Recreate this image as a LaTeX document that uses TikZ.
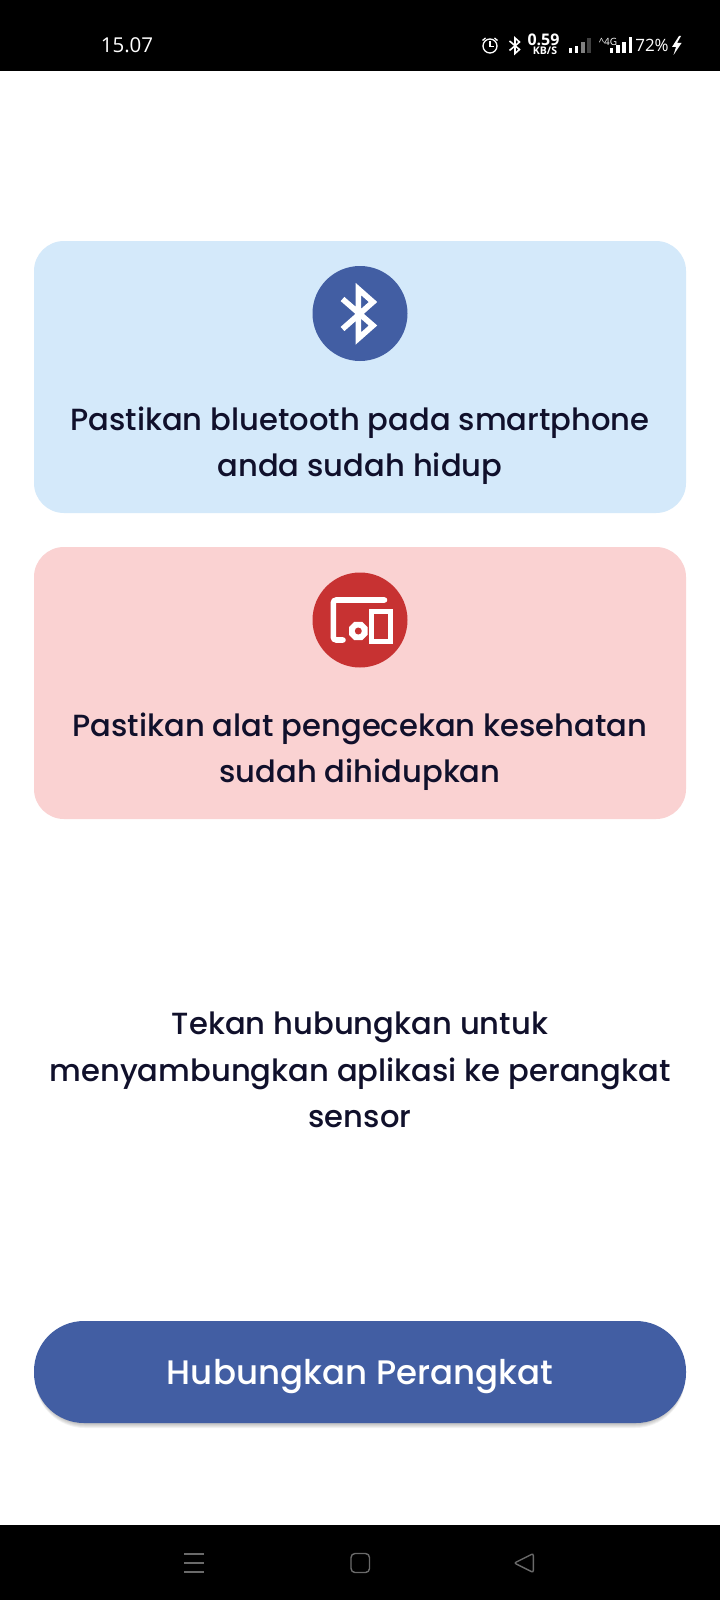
\documentclass[tikz,border=0pt]{standalone}
\usepackage{fontspec}
\usepackage{tikz}
\setmainfont{Poppins Medium}
\newfontfamily\statusfont{Open Sans}
\usetikzlibrary{arrows,shapes.geometric}
\definecolor{navyblue}{HTML}{425EA3}
\definecolor{bluebg}{HTML}{D4E9FA}
\definecolor{redbg}{HTML}{FAD2D2}
\definecolor{alertred}{HTML}{C73232}
\definecolor{inkdark}{HTML}{10102B}
\definecolor{navgrey}{HTML}{6A6A6A}

\begin{document}
\begin{tikzpicture}[x=1pt,y=-1pt,
  card node/.style={rectangle,rounded corners=30pt,minimum width=652pt,minimum height=272pt,inner sep=0pt},
  icon node/.style={circle,minimum size=95pt,inner sep=0pt},
  msg node/.style={align=center,text=inkdark,inner sep=0pt,font=\fontsize{30.6}{46.3}\selectfont},
  stat node/.style={text=white,inner sep=0pt,font=\statusfont\fontsize{17}{17}\selectfont},
  glyph/.style={draw=white,line width=5.6pt,line join=miter},
  nav/.style={draw=navgrey,line width=1.4pt}]

  \useasboundingbox (0,0) rectangle (720,1600);
  \fill[white] (0,0) rectangle (720,1600);
  \fill[black] (0,0) rectangle (720,71);
  \fill[black] (0,1525) rectangle (720,1600);

  % status bar
  \node[stat node,font=\statusfont\fontsize{20.5}{20.5}\selectfont] (clock) at (127,45) {15.07};
  \node[circle,draw=white,line width=1.3pt,minimum size=14pt,inner sep=0pt] (alarm) at (490,46) {};
  \draw[white,line width=1.2pt] (490,41.5) -- (490,46.5) -- (493.5,46.5);
  \draw[white,line width=1.3pt] (482.5,40.5) -- (485.5,38) (497.5,40.5) -- (494.5,38);
  \draw[white,line width=1.6pt] (509.5,41) -- (519.5,49.5) -- (515,53.5) -- (515,38) -- (519.5,42) -- (509.5,50.5);
  \node[stat node,font=\statusfont\bfseries\fontsize{16}{16}\selectfont] (speed) at (543.5,40) {0.59};
  \node[stat node,font=\statusfont\bfseries\fontsize{10.5}{10.5}\selectfont] (unit) at (545,51) {KB/S};
  \foreach \i/\h/\c in {0/5/white,1/7/white,2/11/gray,3/15/gray!50!black}
    \fill[\c] ({568.5+\i*6.2},53) rectangle ++(3.6,-\h);
  \node[stat node,font=\statusfont\fontsize{10}{10}\selectfont] (net) at (608,42) {\textasciicircum 4G};
  \foreach \i/\h in {0/5,1/8,2/11,3/16}
    \fill[white] ({610+\i*6.2},53) rectangle ++(3.4,-\h);
  \node[stat node] (batt) at (652,45) {72\%};
  \fill[white] (679,36) -- (672,47) -- (676,47) -- (673.5,55) -- (681.5,43) -- (677,43) -- (681,36) -- cycle;

  % cards
  \node[card node,fill=bluebg] (card1) at (360,377) {};
  \node[card node,fill=redbg] (card2) [below of=card1,node distance=306pt] {};
  \node[icon node,fill=navyblue] (icon1) at (360,313.5) {};
  \node[icon node,fill=alertred] (icon2) [below of=icon1,node distance=306.5pt] {};
  \node[msg node] (text1) at (360,445.5) {Pastikan bluetooth pada smartphone\\anda sudah hidup};
  \node[msg node] (text2) [below of=text1,node distance=306pt] {Pastikan alat pengecekan kesehatan\\sudah dihidupkan};

  \draw[glyph] (342.5,299) -- (373,325.5) -- (358.3,338.5) -- (358.3,289) -- (373,302) -- (342.5,329);

  \draw[glyph,line cap=round,rounded corners=3pt] (384.5,600) -- (333.3,600) -- (333.3,640) -- (343,640);
  \draw[glyph,line width=5pt] (371,611) rectangle (390,641);
  \node[regular polygon,regular polygon sides=8,fill=white,minimum size=20pt,inner sep=0pt] (watch) at (358.3,631) {};
  \node[circle,fill=alertred,minimum size=7pt,inner sep=0pt] (watchface) at (358.3,631) {};

  % message and button
  \node[msg node] (hint) at (360,1070) {Tekan hubungkan untuk\\menyambungkan aplikasi ke perangkat\\sensor};

  \foreach \o in {5,4,3,2,1}
    \fill[black,opacity=0.05,rounded corners=50pt] (35,{1321+\o}) rectangle (685,{1423+\o});
  \node[rectangle,fill=navyblue,rounded corners=50pt,minimum width=652pt,minimum height=102pt,inner sep=0pt] (connect) at (360,1372) {};
  \node[text=white,inner sep=0pt,font=\fontsize{34}{40}\selectfont] (connectlabel) at (360,1377) {Hubungkan Perangkat};

  % navigation bar
  \draw[nav] (184,1554) -- (204,1554) (184,1563) -- (204,1563) (184,1572) -- (204,1572);
  \draw[nav,rounded corners=4pt] (351,1553.5) rectangle (369.5,1572.5);
  \draw[nav,rounded corners=2pt] (514.3,1563) -- (533.3,1553.5) -- (533.3,1572.5) -- cycle;
\end{tikzpicture}
\end{document}
